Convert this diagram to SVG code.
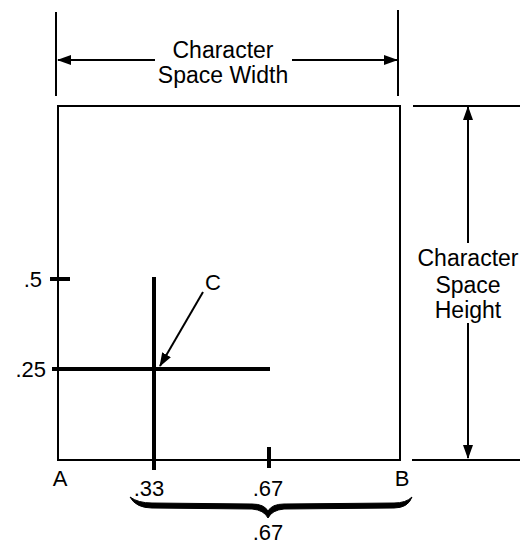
<svg xmlns="http://www.w3.org/2000/svg" width="520" height="544" viewBox="0 0 520 544">
<defs>
<style>
.ln{stroke:#000;stroke-width:2;fill:none}
.thick{stroke:#000;stroke-width:4;fill:none}
.big{font-family:"Liberation Sans",Arial,sans-serif;font-size:23px;fill:#000;text-anchor:middle}
.lbl{font-family:"Liberation Sans",Arial,sans-serif;font-size:22px;fill:#000}
</style>
<marker id="ah" viewBox="0 0 14 10" refX="13" refY="5" markerWidth="14" markerHeight="10" markerUnits="userSpaceOnUse" orient="auto">
<path d="M0,0 L14,5 L0,10 Z" fill="#000"/>
</marker>
</defs>
<rect width="520" height="544" fill="#fff"/>
<g id="box">
<rect x="58" y="106" width="342" height="354" class="ln"/>
</g>
<g id="connectors">
<line x1="56" y1="12" x2="56" y2="96" class="ln"/>
<line x1="398" y1="10" x2="398" y2="96" class="ln"/>
<line x1="155" y1="60" x2="58" y2="60" class="ln" marker-end="url(#ah)"/>
<line x1="292" y1="60" x2="397" y2="60" class="ln" marker-end="url(#ah)"/>
<line x1="413" y1="106" x2="520" y2="106" class="ln"/>
<line x1="412" y1="460" x2="520" y2="460" class="ln"/>
<line x1="468" y1="243" x2="468" y2="107" class="ln" marker-end="url(#ah)"/>
<line x1="468" y1="323" x2="468" y2="458" class="ln" marker-end="url(#ah)"/>
<line x1="50" y1="279" x2="70" y2="279" class="thick" stroke-width="3"/>
<line x1="154" y1="277" x2="154" y2="470" class="thick"/>
<line x1="52" y1="369" x2="270" y2="369" class="thick"/>
<line x1="269" y1="447" x2="269" y2="468" class="thick" stroke-width="3"/>
<line x1="203" y1="292" x2="160" y2="366" class="ln" marker-end="url(#ah)"/>
<path d="M130,497 Q136,508 152,508 L252,509 Q264,510 268,518 Q272,510 284,509 L394,508 Q408,508 412,497 Q406,503 394,503 L284,504 Q272,504 268,511 Q264,504 252,504 L152,503 Q138,503 130,497 Z" fill="#000" stroke="#000" stroke-width="1"/>
</g>
<g id="labels">
<text class="big" x="223" y="58">Character</text>
<text class="big" x="223" y="83">Space Width</text>
<text class="big" x="468" y="266">Character</text>
<text class="big" x="468" y="293">Space</text>
<text class="big" x="468" y="318">Height</text>
<text class="lbl" x="42" y="287" text-anchor="end">.5</text>
<text class="lbl" x="46" y="377" text-anchor="end">.25</text>
<text class="lbl" x="213" y="290" text-anchor="middle">C</text>
<text class="lbl" x="60" y="486" text-anchor="middle">A</text>
<text class="lbl" x="402" y="486" text-anchor="middle">B</text>
<text class="lbl" x="149" y="496" text-anchor="middle">.33</text>
<text class="lbl" x="268" y="496" text-anchor="middle">.67</text>
<text class="lbl" x="268" y="540" text-anchor="middle">.67</text>
</g>
</svg>
